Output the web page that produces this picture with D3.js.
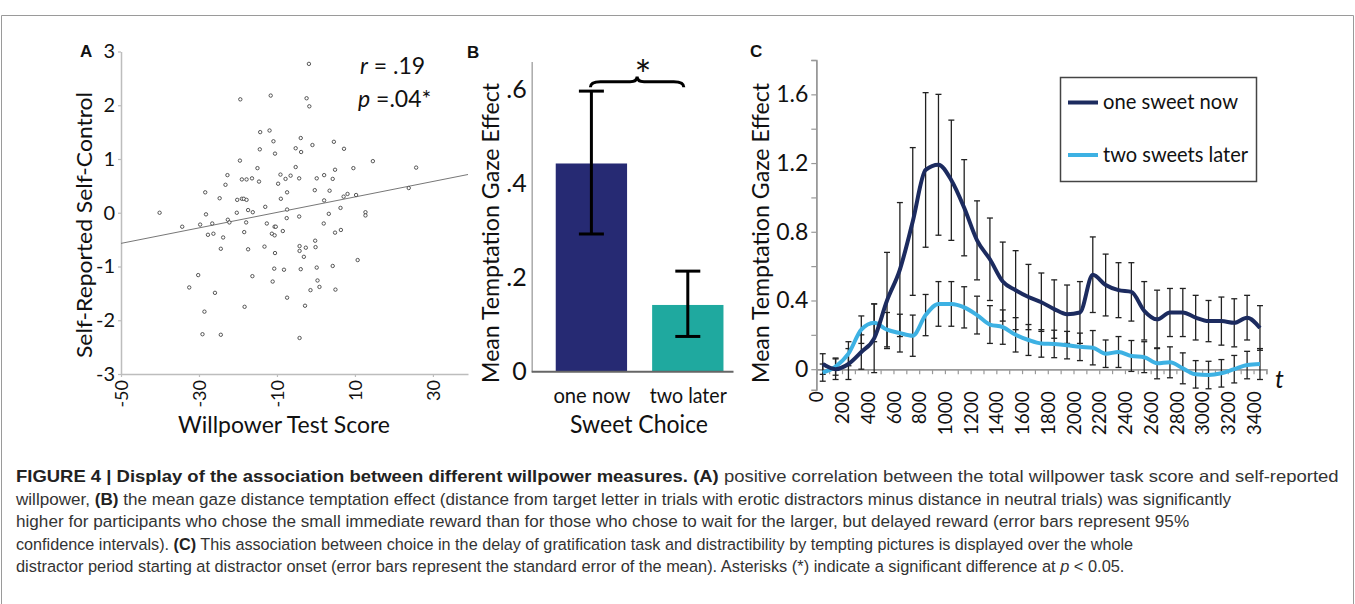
<!DOCTYPE html>
<html lang="en">
<head>
<meta charset="UTF-8">
<title>Figure 4</title>
<script src="https://cdn.jsdelivr.net/npm/d3@7"></script>
<style>
  body { margin: 0; background: #fff; }
  svg text { font-family: Lato, "Open Sans", sans-serif; fill: #111; }
  .letter { font-family: "Liberation Sans", Arial, sans-serif; font-weight: bold; font-size: 17px; }
  .caption text { font-family: "Liberation Sans Narrow", "Liberation Sans", Arial, sans-serif; font-size: 16.5px; fill: #333; }
</style>
</head>
<body>
<svg id="fig" width="1355" height="604"></svg>
<script>
// ---- panel A: willpower score vs self-reported self-control
const willpowerScore = [-19.4, -11.6, -2.4, -1.7, -1.8, -14.3, -11.9, -10.9, -3.9, 4.6, -0.9, -14.4, -10.5, -5.2, -3.8, 7.2,
  -19.5, 14.6, -15.0, -5.2, 4.9, 9.6, 25.7, -22.7, -19.0, -17.8, -16.4, -14.6, -9.1, -7.8, -6.5, -4.3,
  -9.7, 0.2, 2.1, 4.3, -23.2, -28.4, -24.7, -20.2, -19.0, -18.5, -17.8, -7.4, -9.0, -0.3, 3.5, 2.1,
  7.1, 8.1, 10.3, 23.8, -13.0, -17.4, -16.2, -20.3, -7.4, 6.3, 3.3, 12.7, 12.7, -40.1, -28.2, -34.3,
  -29.7, -26.6, -22.6, -22.2, -17.9, -12.6, -10.6, -10.3, -7.5, -4.3, 2.0, -27.7, -26.3, -23.8, -18.4, -11.3,
  -10.6, -8.5, 4.9, 6.4, -24.4, -17.4, -13.2, -10.5, -4.2, -4.2, -2.6, -0.1, -0.2, -3.1, 10.7, -30.2,
  -32.5, -25.9, -16.3, -10.7, -8.2, -11.1, -3.9, 0.2, 4.3, 0.4, 0.9, -1.4, 5.0, -7.4, -2.8, -18.3,
  -28.6, -29.1, -24.4, -4.2];
const selfControl = [2.11, 2.18, 2.13, 1.98, 2.77, 1.50, 1.53, 1.33, 1.39, 1.32, 1.26, 1.18, 1.10, 1.20, 1.13, 1.19,
  0.97, 0.96, 0.83, 0.85, 0.80, 0.83, 0.84, 0.70, 0.62, 0.62, 0.64, 0.58, 0.71, 0.63, 0.69, 0.64,
  0.54, 0.64, 0.70, 0.63, 0.52, 0.38, 0.27, 0.24, 0.26, 0.26, 0.24, 0.38, 0.26, 0.42, 0.41, 0.23,
  0.30, 0.35, 0.33, 0.46, 0.11, 0.05, 0.01, 0.00, 0.06, 0.09, -0.02, 0.01, -0.05, 0.00, -0.03, -0.26,
  -0.22, -0.20, -0.13, -0.18, -0.18, -0.20, -0.26, -0.26, -0.10, -0.07, -0.20, -0.41, -0.39, -0.46, -0.36, -0.39,
  -0.42, -0.34, -0.37, -0.32, -0.67, -0.68, -0.63, -0.75, -0.62, -0.71, -0.65, -0.64, -0.52, -0.82, -0.88, -1.16,
  -1.39, -1.49, -1.18, -1.04, -1.06, -1.28, -1.05, -1.02, -0.99, -1.26, -1.38, -1.44, -1.43, -1.58, -1.73, -1.75,
  -1.84, -2.26, -2.27, -2.33];
const fitSlope = 0.0144;
const fitIntercept = 0.15;
const scoreTicks = [-50, -30, -10, 10, 30];
const controlTicks = [-3, -2, -1, 0, 1, 2, 3];

// ---- panel B: temptation gaze effect by sweet choice (95% CI)
const choices = ["one now", "two later"];
const gazeMean = [0.443, 0.142];
const ciLow = [0.293, 0.075];
const ciHigh = [0.597, 0.214];
const gazeTicks = [0, 0.2, 0.4, 0.6];

// ---- panel C: gaze effect over time (mean +- SEM)
const timeBins = [50, 150, 250, 350, 450, 550, 650, 750, 850, 950, 1050, 1150, 1250, 1350, 1450, 1550, 1650, 1750,
  1850, 1950, 2050, 2150, 2250, 2350, 2450, 2550, 2650, 2750, 2850, 2950, 3050, 3150, 3250, 3350, 3450];
const nowMean = [0.03, 0.00, 0.03, 0.10, 0.18, 0.40, 0.58, 0.86, 1.16, 1.19, 1.10, 0.94, 0.75, 0.64, 0.51, 0.46, 0.42, 0.39,
  0.35, 0.32, 0.33, 0.55, 0.49, 0.46, 0.45, 0.34, 0.29, 0.33, 0.33, 0.30, 0.28, 0.28, 0.27, 0.30, 0.24];
const nowSem = [0.06, 0.06, 0.09, 0.10, 0.20, 0.28, 0.39, 0.43, 0.45, 0.41, 0.35, 0.28, 0.23, 0.24, 0.23, 0.23, 0.19, 0.17,
  0.17, 0.17, 0.18, 0.22, 0.18, 0.16, 0.17, 0.17, 0.17, 0.14, 0.14, 0.13, 0.12, 0.14, 0.14, 0.13, 0.13];
const laterMean = [-0.02, 0.015, 0.09, 0.23, 0.27, 0.23, 0.21, 0.195, 0.315, 0.38, 0.38, 0.36, 0.315, 0.26, 0.245, 0.20, 0.17, 0.15,
  0.147, 0.14, 0.13, 0.125, 0.09, 0.10, 0.077, 0.07, 0.034, 0.04, 0.005, -0.03, -0.034, -0.024, 0.0, 0.024, 0.03];
const laterSem = [0.05, 0.05, 0.07, 0.08, 0.11, 0.10, 0.11, 0.12, 0.12, 0.13, 0.13, 0.12, 0.11, 0.11, 0.10, 0.10, 0.09, 0.08,
  0.08, 0.08, 0.08, 0.10, 0.08, 0.09, 0.09, 0.09, 0.09, 0.09, 0.09, 0.08, 0.08, 0.08, 0.08, 0.08, 0.09];
const timeTicks = [0, 200, 400, 600, 800, 1000, 1200, 1400, 1600, 1800, 2000, 2200, 2400, 2600, 2800, 3000, 3200, 3400];
const timeMinor = [100, 300, 500, 700, 900, 1100, 1300, 1500, 1700, 1900, 2100, 2300, 2500, 2700, 2900, 3100, 3300, 3500];
const effectTicks = [0, 0.4, 0.8, 1.2, 1.6];
const effectMinor = [0.2, 0.6, 1.0, 1.4, 1.8];

const svg = d3.select("#fig");

// frame around the figure
svg.append("path")
  .attr("d", "M1.5,604 V15.5 H1353.5 V604")
  .attr("fill", "none")
  .attr("stroke", "#9a9a9a")
  .attr("stroke-width", 1);

function styleAxis(g, color, size) {
  g.select(".domain").attr("stroke", color).attr("stroke-width", 1.5);
  g.selectAll(".tick line").attr("stroke", color).attr("stroke-width", 1.2);
  g.selectAll(".tick text").style("font-size", size + "px").attr("fill", "#111");
}
const plain = d => String(d);

// ================= A =================
const xA = d3.scaleLinear().domain([-50, 39]).range([121, 468]);
const yA = d3.scaleLinear().domain([-3, 3]).range([374, 51.5]);
const gA = svg.append("g");

gA.append("g")
  .attr("transform", "translate(121,0)")
  .call(d3.axisLeft(yA).tickValues(controlTicks).tickFormat(plain).tickSize(3).tickSizeOuter(0).tickPadding(3))
  .call(g => styleAxis(g, "#bdbdbd", 20));

gA.append("g")
  .attr("transform", "translate(0,374)")
  .call(d3.axisBottom(xA).tickValues(scoreTicks).tickFormat(plain).tickSize(3).tickSizeOuter(0))
  .call(g => styleAxis(g, "#bdbdbd", 18))
  .call(g => g.selectAll(".tick text")
    .attr("transform", "rotate(-90)")
    .attr("x", -6).attr("y", 0).attr("dy", "0.35em")
    .style("text-anchor", "end"));

gA.append("line")
  .attr("x1", xA(-50)).attr("y1", yA(fitIntercept + fitSlope * -50))
  .attr("x2", xA(39)).attr("y2", yA(fitIntercept + fitSlope * 39))
  .attr("stroke", "#777").attr("stroke-width", 1);

gA.selectAll("circle")
  .data(d3.zip(willpowerScore, selfControl))
  .join("circle")
  .attr("cx", d => xA(d[0]))
  .attr("cy", d => yA(d[1]))
  .attr("r", 1.7)
  .attr("fill", "#fff")
  .attr("stroke", "#444")
  .attr("stroke-width", 0.9);

const stat1 = gA.append("text").attr("x", 360).attr("y", 74).style("font-size", "23px");
stat1.append("tspan").style("font-style", "italic").text("r");
stat1.append("tspan").text(" = .19");
const stat2 = gA.append("text").attr("x", 358).attr("y", 107).style("font-size", "23px");
stat2.append("tspan").style("font-style", "italic").text("p");
stat2.append("tspan").text(" =.04*");

gA.append("text")
  .attr("transform", "translate(92,225) rotate(-90)")
  .attr("text-anchor", "middle")
  .attr("textLength", 266).attr("lengthAdjust", "spacingAndGlyphs")
  .style("font-size", "22px")
  .text("Self-Reported Self-Control");
gA.append("text")
  .attr("x", 284).attr("y", 433)
  .attr("text-anchor", "middle")
  .attr("textLength", 212).attr("lengthAdjust", "spacingAndGlyphs")
  .style("font-size", "23px")
  .text("Willpower Test Score");
svg.append("text").attr("class", "letter").attr("x", 80).attr("y", 57).text("A");

// ================= B =================
const xB = d3.scaleBand().domain(choices).range([543.2, 736]).paddingInner(0.26).paddingOuter(0.13);
const yB = d3.scaleLinear().domain([0, 0.66]).range([371.7, 61.5]);
const gB = svg.append("g");

gB.append("g")
  .attr("transform", "translate(531.7,0)")
  .call(d3.axisLeft(yB).tickValues(gazeTicks).tickSize(0).tickSizeOuter(0).tickPadding(5)
    .tickFormat(d => d === 0 ? "0" : d3.format(".1f")(d).replace("0.", ".")))
  .call(g => styleAxis(g, "#aaa", 25));

const barColors = ["#262a73", "#1fa99f"];
gB.selectAll("rect.bar")
  .data(choices)
  .join("rect")
  .attr("class", "bar")
  .attr("x", d => xB(d))
  .attr("width", xB.bandwidth())
  .attr("y", (d, i) => yB(gazeMean[i]))
  .attr("height", (d, i) => yB(0) - yB(gazeMean[i]))
  .attr("fill", (d, i) => barColors[i]);

gB.append("line")
  .attr("x1", 531.7).attr("x2", 733.5)
  .attr("y1", yB(0)).attr("y2", yB(0))
  .attr("stroke", "#666").attr("stroke-width", 2);

const errB = gB.selectAll("g.err")
  .data(choices)
  .join("g")
  .attr("class", "err")
  .attr("transform", d => `translate(${xB(d) + xB.bandwidth() / 2},0)`);
errB.append("line")
  .attr("y1", (d, i) => yB(ciLow[i])).attr("y2", (d, i) => yB(ciHigh[i]))
  .attr("stroke", "#000").attr("stroke-width", 3);
errB.selectAll("line.cap")
  .data((d, i) => [ciLow[i], ciHigh[i]])
  .join("line")
  .attr("class", "cap")
  .attr("x1", -12.5).attr("x2", 12.5)
  .attr("y1", v => yB(v)).attr("y2", v => yB(v))
  .attr("stroke", "#000").attr("stroke-width", 3);

// significance brace between the two groups
const braceLeft = xB(choices[0]) + xB.bandwidth() / 2 - 1;
const braceRight = xB(choices[1]) + xB.bandwidth() / 2 - 4;
const braceMid = (braceLeft + braceRight) / 2;
const yLine = yB(0.617), yEnd = yB(0.605), yTip = yB(0.628);
gB.append("path")
  .attr("d", `M${braceLeft},${yEnd} Q${braceLeft},${yLine} ${braceLeft + 10},${yLine}
    L${braceMid - 7},${yLine} Q${braceMid},${yLine} ${braceMid},${yTip}
    Q${braceMid},${yLine} ${braceMid + 7},${yLine} L${braceRight - 10},${yLine}
    Q${braceRight},${yLine} ${braceRight},${yEnd}`)
  .attr("fill", "none").attr("stroke", "#000").attr("stroke-width", 3);
gB.append("text")
  .attr("x", braceMid + 6).attr("y", 90)
  .attr("text-anchor", "middle")
  .style("font-size", "40px")
  .text("*");

gB.selectAll("text.cat")
  .data(choices)
  .join("text")
  .attr("class", "cat")
  .attr("x", d => xB(d) + xB.bandwidth() / 2 + 0.5)
  .attr("y", 403)
  .attr("text-anchor", "middle")
  .attr("textLength", 77).attr("lengthAdjust", "spacingAndGlyphs")
  .style("font-size", "21px")
  .text(d => d);
gB.append("text")
  .attr("x", 639).attr("y", 433)
  .attr("text-anchor", "middle")
  .attr("textLength", 138).attr("lengthAdjust", "spacingAndGlyphs")
  .style("font-size", "25px")
  .text("Sweet Choice");
gB.append("text")
  .attr("transform", "translate(499,233) rotate(-90)")
  .attr("text-anchor", "middle")
  .attr("textLength", 300).attr("lengthAdjust", "spacingAndGlyphs")
  .style("font-size", "24px")
  .text("Mean Temptation Gaze Effect");
svg.append("text").attr("class", "letter").attr("x", 467).attr("y", 58).text("B");

// ================= C =================
const xC = d3.scaleLinear().domain([0, 3500]).range([816.3, 1266.4]);
const yC = d3.scaleLinear().domain([-0.12, 1.8]).range([389.8, 60]);
const gC = svg.append("g");

gC.append("g")
  .attr("transform", `translate(${xC(0)},0)`)
  .call(d3.axisLeft(yC).tickValues(effectMinor).tickSize(5).tickFormat(""))
  .call(g => styleAxis(g, "#999", 22));
gC.append("g")
  .attr("transform", `translate(${xC(0)},0)`)
  .call(d3.axisLeft(yC).tickValues(effectTicks).tickSize(5).tickSizeOuter(0).tickPadding(3)
    .tickFormat(d => d === 0 ? "0" : d3.format(".1f")(d)))
  .call(g => styleAxis(g, "#999", 23));

gC.append("g")
  .attr("transform", `translate(0,${yC(0)})`)
  .call(d3.axisBottom(xC).tickValues(timeMinor).tickSize(5).tickFormat(""))
  .call(g => styleAxis(g, "#999", 18));
gC.append("g")
  .attr("transform", `translate(0,${yC(0)})`)
  .call(d3.axisBottom(xC).tickValues(timeTicks).tickFormat(plain).tickSize(5).tickSizeOuter(0))
  .call(g => styleAxis(g, "#999", 19))
  .call(g => g.selectAll(".tick text")
    .attr("transform", "rotate(-90)")
    .attr("x", -22).attr("y", 0).attr("dy", "0.35em")
    .style("text-anchor", "end"));

const seriesC = [
  { name: "two sweets later", mean: laterMean, sem: laterSem, color: "#3db1e3" },
  { name: "one sweet now", mean: nowMean, sem: nowSem, color: "#1c2b5f" }
];

seriesC.forEach(s => {
  const eg = gC.append("g").attr("stroke", "#222").attr("stroke-width", 1.3);
  timeBins.forEach((t, i) => {
    const lo = yC(s.mean[i] - s.sem[i]), hi = yC(s.mean[i] + s.sem[i]);
    eg.append("line").attr("x1", xC(t)).attr("x2", xC(t)).attr("y1", lo).attr("y2", hi);
    eg.append("line").attr("x1", xC(t) - 3).attr("x2", xC(t) + 3).attr("y1", lo).attr("y2", lo);
    eg.append("line").attr("x1", xC(t) - 3).attr("x2", xC(t) + 3).attr("y1", hi).attr("y2", hi);
  });
});

const lineC = d3.line().curve(d3.curveMonotoneX);
seriesC.forEach(s => {
  gC.append("path")
    .attr("d", lineC(timeBins.map((t, i) => [xC(t), yC(s.mean[i])])))
    .attr("fill", "none")
    .attr("stroke", s.color)
    .attr("stroke-width", 4)
    .attr("stroke-linejoin", "round");
});

gC.append("text")
  .attr("x", 1275).attr("y", 388)
  .style("font-size", "25px").style("font-style", "italic")
  .text("t");
gC.append("text")
  .attr("transform", "translate(769,233) rotate(-90)")
  .attr("text-anchor", "middle")
  .attr("textLength", 300).attr("lengthAdjust", "spacingAndGlyphs")
  .style("font-size", "23px")
  .text("Mean Temptation Gaze Effect");
svg.append("text").attr("class", "letter").attr("x", 750).attr("y", 57).text("C");

// legend
const legend = gC.append("g");
legend.append("rect")
  .attr("x", 1060.5).attr("y", 77.5).attr("width", 196).attr("height", 104)
  .attr("fill", "#fff").attr("stroke", "#444").attr("stroke-width", 1.5);
const legendItems = [seriesC[1], seriesC[0]];
legendItems.forEach((s, i) => {
  const y = 102.5 + i * 52.5;
  legend.append("line")
    .attr("x1", 1068).attr("x2", 1098).attr("y1", y).attr("y2", y)
    .attr("stroke", s.color).attr("stroke-width", 4);
  legend.append("text")
    .attr("x", 1103).attr("y", y + 6.5)
    .attr("textLength", i === 0 ? 135 : 145).attr("lengthAdjust", "spacingAndGlyphs")
    .style("font-size", "21px")
    .text(s.name);
});

// ================= caption =================
const captionLines = [
  [["b", "FIGURE 4 | Display of the association between different willpower measures. (A)"], ["n", " positive correlation between the total willpower task score and self-reported"]],
  [["n", "willpower, "], ["b", "(B)"], ["n", " the mean gaze distance temptation effect (distance from target letter in trials with erotic distractors minus distance in neutral trials) was significantly"]],
  [["n", "higher for participants who chose the small immediate reward than for those who chose to wait for the larger, but delayed reward (error bars represent 95%"]],
  [["n", "confidence intervals). "], ["b", "(C)"], ["n", " This association between choice in the delay of gratification task and distractibility by tempting pictures is displayed over the whole"]],
  [["n", "distractor period starting at distractor onset (error bars represent the standard error of the mean). Asterisks (*) indicate a significant difference at "], ["i", "p"], ["n", " < 0.05."]]
];
const captionWidths = [1324, 1216, 1174, 1118, 1109];
const cap = svg.append("g").attr("class", "caption");
captionLines.forEach((parts, i) => {
  const t = cap.append("text");
  parts.forEach(p => {
    t.append("tspan")
      .style("font-weight", p[0] === "b" ? "bold" : "normal")
      .style("font-style", p[0] === "i" ? "italic" : "normal")
      .style("fill", p[0] === "b" ? "#222" : "#333")
      .text(p[1]);
  });
  // squeeze each line horizontally to the width it has in the printed figure
  const natural = t.node().getComputedTextLength();
  t.attr("transform", `translate(16,${482 + i * 22.6}) scale(${captionWidths[i] / natural},1)`);
});
</script>
</body>
</html>
